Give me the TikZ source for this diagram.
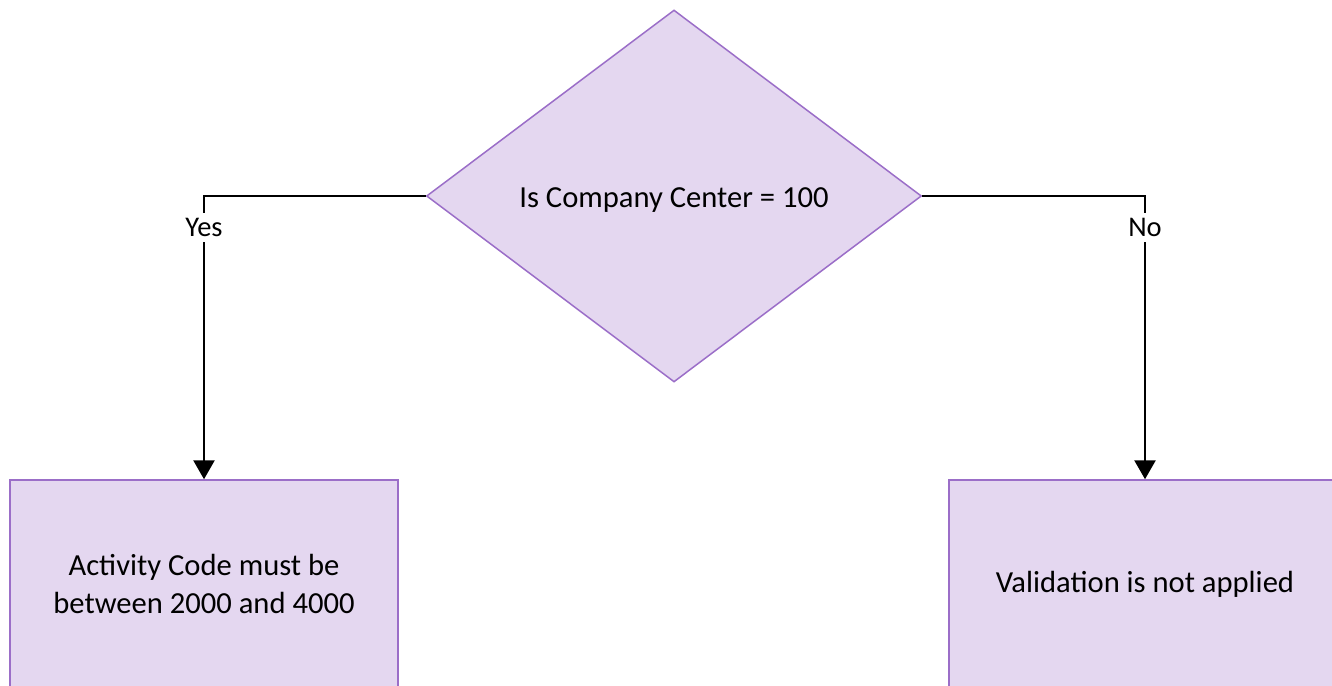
\documentclass[tikz,border=0pt]{standalone}
\usepackage{fontspec}
\setmainfont{Carlito}
\usetikzlibrary{shapes.geometric,arrows.meta}
\definecolor{boxfill}{RGB}{228,215,240}
\definecolor{boxline}{RGB}{155,110,200}
\tikzset{
  decision/.style={diamond, draw=boxline, fill=boxfill, line width=1.5pt, inner sep=0pt,
    minimum width=495pt, minimum height=372pt, aspect=1.33, font=\fontsize{30.6}{36}\selectfont},
  process/.style={rectangle, draw=boxline, fill=boxfill, line width=1.5pt, inner sep=0pt,
    minimum width=388pt, minimum height=208pt, align=center, font=\fontsize{30.6}{38}\selectfont},
  flow/.style={draw=black, line width=2.6pt, -{Triangle[length=19pt,width=21pt]}},
  flowlabel/.style={fill=white, inner sep=5pt, font=\fontsize{28.5}{34}\selectfont}
}
\begin{document}
\begin{tikzpicture}[x=1pt,y=-1pt]
\useasboundingbox (0,0) rectangle (1332,685);
\clip (0,0) rectangle (1332,685);
\node[decision] (d) at (674,196) {\raisebox{-4pt}[\height][\depth]{Is Company Center = 100}};
\node[process] (yes) at (204,584) {Activity Code must be\\between 2000 and 4000};
\node[process, minimum width=392pt] (no) at (1145,584) {Validation is not applied};
\draw[flow] (d.west) -| node[flowlabel, pos=0.556] {Yes} (yes.north);
\draw[flow] (d.east) -| node[flowlabel, pos=0.556] {No} (no.north);
\end{tikzpicture}
\end{document}
